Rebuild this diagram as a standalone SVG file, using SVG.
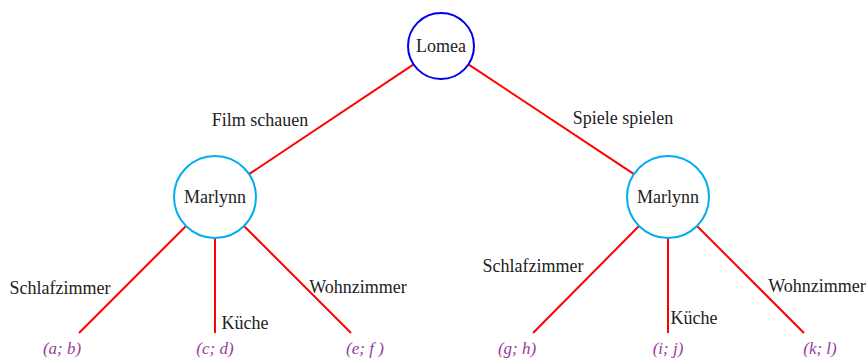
<svg xmlns="http://www.w3.org/2000/svg" width="867" height="358" viewBox="0 0 867 358">
<style>
.edge{stroke:#ff0000;stroke-width:2;fill:none}
.root{fill:#fff;stroke:#0000ee;stroke-width:2}
.inner{fill:#fff;stroke:#00aeef;stroke-width:2}
text{font-family:"Liberation Serif","DejaVu Serif",serif;font-size:18px;fill:#222}
.lbl{text-anchor:middle}
.leaf{font-size:17px;font-style:italic;fill:#963c9b;text-anchor:middle}
</style>
<rect width="867" height="358" fill="#fff"/>
<g id="connectors">
<line class="edge" x1="413.6" y1="64.3" x2="249" y2="174.2"/>
<line class="edge" x1="468.4" y1="64.3" x2="634" y2="174.2"/>
<line class="edge" x1="186" y1="226" x2="79" y2="333"/>
<line class="edge" x1="215" y1="238" x2="215" y2="333"/>
<line class="edge" x1="244" y1="226" x2="351" y2="333"/>
<line class="edge" x1="639" y1="226" x2="533" y2="333"/>
<line class="edge" x1="668" y1="238" x2="668" y2="333"/>
<line class="edge" x1="697" y1="226" x2="804" y2="333"/>
<text class="lbl" x="260" y="126">Film schauen</text>
<text class="lbl" x="623" y="124">Spiele spielen</text>
<text class="lbl" x="60" y="294">Schlafzimmer</text>
<text class="lbl" x="245" y="329">Küche</text>
<text class="lbl" x="358" y="293">Wohnzimmer</text>
<text class="lbl" x="533" y="272">Schlafzimmer</text>
<text class="lbl" x="694" y="324">Küche</text>
<text class="lbl" x="817" y="292">Wohnzimmer</text>
</g>
<g id="lomea"><circle class="root" cx="441" cy="46" r="33"/><text class="lbl" x="441" y="52">Lomea</text></g>
<g id="marlynn-left"><circle class="inner" cx="215" cy="197" r="41"/><text class="lbl" x="215" y="203">Marlynn</text></g>
<g id="marlynn-right"><circle class="inner" cx="668" cy="197" r="41"/><text class="lbl" x="668" y="203">Marlynn</text></g>
<g id="leaf-ab"><text class="leaf" x="62" y="354">(a; b)</text></g>
<g id="leaf-cd"><text class="leaf" x="215" y="354">(c; d)</text></g>
<g id="leaf-ef"><text class="leaf" x="365" y="354">(e; f )</text></g>
<g id="leaf-gh"><text class="leaf" x="517" y="354">(g; h)</text></g>
<g id="leaf-ij"><text class="leaf" x="668" y="354">(i; j)</text></g>
<g id="leaf-kl"><text class="leaf" x="820" y="354">(k; l)</text></g>
</svg>
